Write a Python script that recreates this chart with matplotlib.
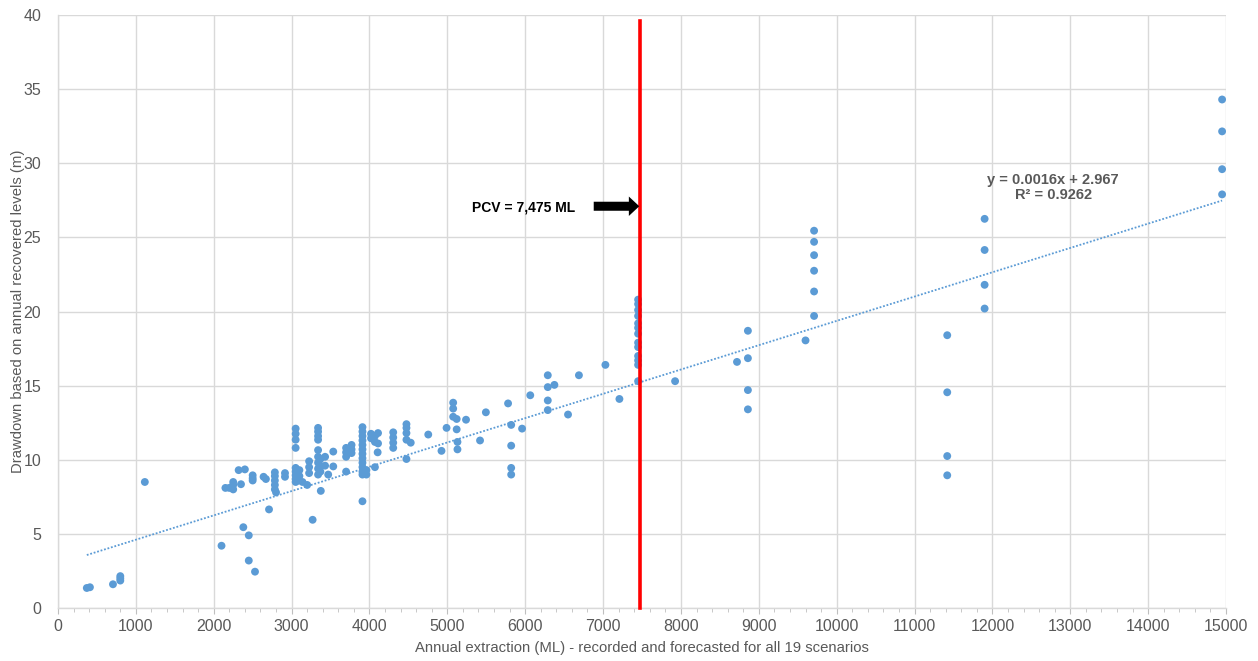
import matplotlib
matplotlib.use("Agg")
import matplotlib.pyplot as plt
from matplotlib.ticker import MultipleLocator
import numpy as np

plt.rcParams['font.family'] = ['Liberation Sans', 'DejaVu Sans']

# Annual extraction (ML) and drawdown (m) for all scenario years
extraction = [
    370, 410, 706, 800, 800, 800, 1115,
    2100, 2380, 2450, 2450, 2530, 2710, 3270, 3375, 3910,
    2150, 2200, 2250, 2250, 2250, 2320, 2400, 2350,
    2500, 2500, 2500, 2640, 2670,
    2785, 2785, 2785, 2785, 2785, 2800, 2915, 2915,
    3052, 3052, 3052, 3052, 3052, 3052, 3052, 3052, 3052,
    3100, 3100, 3090, 3140, 3200,
    3225, 3225, 3225,
    3340, 3340, 3340, 3340, 3340, 3340, 3340, 3340, 3340,
    3370, 3370, 3370, 3430, 3430, 3470, 3535, 3535,
    3700, 3700, 3700, 3700, 3770, 3770, 3770,
    3910, 3910, 3910, 3910, 3910, 3910, 3910, 3910, 3910, 3910, 3910, 3910,
    3960, 3960,
    4020, 4020, 4070, 4070, 4110, 4110, 4105, 4070,
    4305, 4305, 4305, 4305,
    4475, 4475, 4475, 4475, 4475, 4530,
    4755, 4925, 4990,
    5075, 5075, 5075, 5120, 5120, 5130, 5130,
    5240, 5420, 5495, 5780, 5820, 5820, 5820, 5820, 5960, 6065,
    6290, 6290, 6290, 6290, 6375, 6550, 6690, 7030, 7210,
    7450, 7450, 7450, 7450, 7450, 7450, 7450, 7450, 7450, 7450, 7450, 7450, 7450,
    7925, 8720, 8860, 8860, 8860, 8860, 9600,
    9710, 9710, 9710, 9710, 9710, 9710,
    11420, 11420, 11420, 11420,
    11900, 11900, 11900, 11900,
    14950, 14950, 14950, 14950,
]
drawdown = [
    1.35, 1.4, 1.6, 2.15, 2.0, 1.85, 8.5,
    4.2, 5.45, 4.9, 3.2, 2.45, 6.65, 5.95, 7.9, 7.2,
    8.1, 8.1, 8.0, 8.3, 8.5, 9.3, 9.35, 8.35,
    8.95, 8.75, 8.6, 8.85, 8.7,
    9.15, 8.9, 8.6, 8.3, 8.0, 7.8, 9.1, 8.85,
    12.1, 11.75, 11.35, 10.8, 9.45, 9.2, 8.95, 8.7, 8.5,
    9.3, 8.9, 8.6, 8.5, 8.3,
    9.9, 9.5, 9.1,
    12.15, 11.9, 11.6, 11.35, 10.65, 10.2, 9.8, 9.4, 9.0,
    10.05, 9.6, 9.2, 10.2, 9.6, 9.0, 10.55, 9.55,
    10.8, 10.5, 10.2, 9.2, 11.0, 10.7, 10.45,
    12.2, 11.9, 11.6, 11.3, 11.0, 10.7, 10.4, 10.1, 9.8, 9.5, 9.2, 9.0,
    9.0, 9.3,
    11.75, 11.45, 11.6, 11.2, 11.8, 11.1, 10.5, 9.5,
    11.85, 11.5, 11.15, 10.8,
    12.4, 12.15, 11.8, 11.35, 10.05, 11.15,
    11.7, 10.6, 12.15,
    13.85, 13.45, 12.9, 12.75, 12.05, 11.2, 10.7,
    12.7, 11.3, 13.2, 13.8, 12.35, 10.95, 9.45, 9.0, 12.1, 14.35,
    15.7, 14.9, 14.0, 13.35, 15.05, 13.05, 15.7, 16.4, 14.1,
    20.8, 20.5, 20.1, 19.7, 19.2, 18.9, 18.5, 17.9, 17.6, 17.0, 16.7, 16.4, 15.3,
    15.3, 16.6, 18.7, 16.85, 14.7, 13.4, 18.05,
    25.45, 24.7, 23.8, 22.75, 21.35, 19.7,
    18.4, 14.55, 10.25, 8.95,
    26.25, 24.15, 21.8, 20.2,
    34.3, 32.15, 29.6, 27.9,
]

# Linear trend fitted to the scenario data
trend_slope = 0.00164
trend_intercept = 2.967
trend_r2 = 0.9262

# Permissible consumptive volume (ML)
pcv = 7475

x_ticks = list(range(0, 15001, 1000))
y_ticks = list(range(0, 41, 5))

point_color = '#5B9BD5'
text_grey = '#595959'
grid_grey = '#D9D9D9'

fig = plt.figure(figsize=(12.58, 6.61), dpi=100)
ax = fig.add_axes([58 / 1258, 53 / 661, (1226 - 58) / 1258, (608 - 15) / 661])

ax.set_xlim(0, 15000)
ax.set_ylim(0, 40)
ax.set_xticks(x_ticks)
ax.set_yticks(y_ticks)
ax.xaxis.set_minor_locator(MultipleLocator(200))

ax.grid(True, which='major', color=grid_grey, linewidth=1.0)
ax.set_axisbelow(True)
for side in ('top', 'right'):
    ax.spines[side].set_visible(False)
ax.spines['left'].set_color(grid_grey)
ax.spines['bottom'].set_color(grid_grey)
ax.spines['left'].set_linewidth(1.0)
ax.spines['bottom'].set_linewidth(1.0)

ax.tick_params(axis='both', which='major', labelsize=11.5, colors=text_grey, length=4, color=grid_grey)
ax.tick_params(axis='y', which='major', length=0, pad=12)
ax.tick_params(axis='x', which='minor', length=3, color='#BFBFBF')
ax.tick_params(axis='x', which='major', length=4, color='#BFBFBF', pad=4)

ax.scatter(extraction, drawdown, s=32, color=point_color, edgecolors='none', zorder=3)

# Trend line over the range of the data
xs = np.array([min(extraction), max(extraction)])
ax.plot(xs, trend_slope * xs + trend_intercept, linestyle=(0, (1, 1)),
        color=point_color, linewidth=1.3, zorder=2)

ax.text(12780, 28.35, f"y = {trend_slope:.4f}x + {trend_intercept:.3f}\nR² = {trend_r2:.4f}",
        ha='center', va='center', fontsize=10.5, fontweight='bold', color=text_grey,
        linespacing=1.05, zorder=4)

# PCV marker line, arrow and label
ax.plot([pcv, pcv], [0, 39.6], color='#FF0000', linewidth=2.6, zorder=4, clip_on=False)
ax.annotate('', xy=(pcv - 10, 27.1), xytext=(6880, 27.1),
            arrowprops=dict(arrowstyle='simple,head_length=0.75,head_width=1.4,tail_width=0.65',
                            color='black', lw=0, shrinkA=0, shrinkB=0), zorder=5)
ax.text(5985, 27.0, f"PCV = {pcv:,} ML", ha='center', va='center',
        fontsize=10, fontweight='bold', color='black', zorder=5)

ax.set_xlabel('Annual extraction (ML) - recorded and forecasted for all 19 scenarios',
              fontsize=10.7, color=text_grey)
ax.set_ylabel('Drawdown based on annual recovered levels (m)',
              fontsize=10.7, color=text_grey)
ax.xaxis.set_label_coords(0.5, -0.055)
ax.yaxis.set_label_coords(-0.028, 0.5)

fig.savefig('out.png', dpi=100)
